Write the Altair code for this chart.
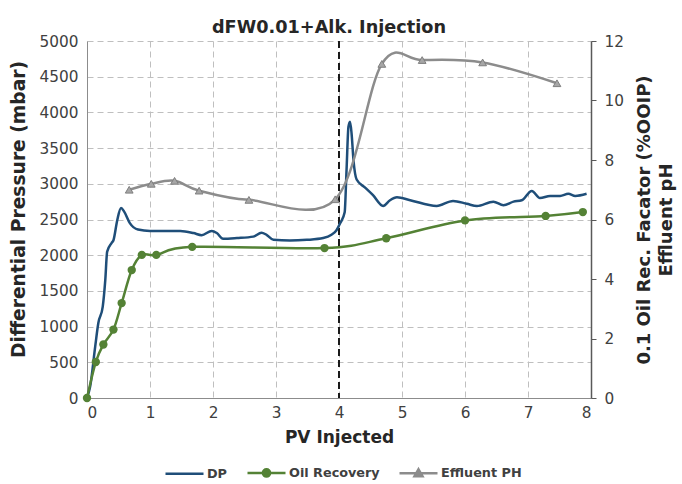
import altair as alt
import pandas as pd

# ---------------- data ----------------
dp_pv = [0, 0.05, 0.13, 0.18, 0.25, 0.29, 0.32, 0.39, 0.42, 0.48, 0.54, 0.59, 0.68, 0.81,
         1.0, 1.27, 1.48, 1.69, 1.82, 1.98, 2.06, 2.16, 2.38, 2.64, 2.77, 2.85, 2.96, 3.22,
         3.49, 3.75, 3.88, 3.96, 4.02, 4.09, 4.12, 4.15, 4.175, 4.2, 4.23, 4.28, 4.41, 4.54,
         4.70, 4.81, 4.92, 5.13, 5.55, 5.81, 6.03, 6.19, 6.45, 6.61, 6.77, 6.90, 7.06, 7.19,
         7.35, 7.51, 7.64, 7.75, 7.93]
dp_mbar = [0, 160, 720, 1050, 1280, 1650, 2050, 2170, 2210, 2490, 2660, 2610, 2450, 2360,
           2340, 2340, 2340, 2310, 2280, 2340, 2310, 2230, 2240, 2260, 2315, 2285, 2215, 2205,
           2215, 2240, 2285, 2350, 2450, 2600, 3200, 3800, 3870, 3700, 3330, 3060, 2950, 2840,
           2690, 2770, 2810, 2770, 2690, 2760, 2720, 2690, 2750, 2700, 2750, 2770, 2900, 2800,
           2830, 2830, 2860, 2830, 2860]

oil_pv = [0, 0.14, 0.26, 0.42, 0.55, 0.71, 0.87, 1.10, 1.67, 3.77, 4.75, 6.00, 7.28, 7.87]
oil_rf = [0, 1.21, 1.80, 2.30, 3.19, 4.30, 4.81, 4.81, 5.08, 5.04, 5.37, 5.97, 6.12, 6.25]

ph_pv = [0.67, 1.02, 1.39, 1.78, 2.57, 3.94, 4.68, 5.32, 6.28, 7.46]
ph_val = [7.0, 7.2, 7.3, 6.97, 6.66, 6.68, 11.23, 11.36, 11.28, 10.58]

switch_pv = [4]

series_names = ["DP", "Oil Recovery", "Effluent PH"]
series_colors = ["#1F4E79", "#548235", "#8C8C8C"]
x_ticks = [0, 1, 2, 3, 4, 5, 6, 7, 8]
left_ticks = [0, 500, 1000, 1500, 2000, 2500, 3000, 3500, 4000, 4500, 5000]
right_ticks = [0, 2, 4, 6, 8, 10, 12]

# ---------------- frames ----------------
dp_df = pd.DataFrame({"pv": dp_pv, "val": dp_mbar})
oil_df = pd.DataFrame({"pv": oil_pv, "val": oil_rf})
ph_df = pd.DataFrame({"pv": ph_pv, "val": ph_val})
rule_df = pd.DataFrame({"pv": switch_pv})
legend_df = pd.DataFrame({"series": series_names})

FONT = "DejaVu Sans"
TXT = "#404040"
TITLE_C = "#262626"
GRID = "#bfbfbf"
LBL = 15.3
TTL = 18.7

x_axis = alt.Axis(
    title="PV Injected", values=x_ticks, format="d", grid=True, gridDash=[6, 4],
    gridColor=GRID, gridWidth=1, ticks=False, labelPadding=7, labelFontSize=LBL,
    labelColor=TXT, labelFont=FONT, titleFont=FONT, titleFontSize=17,
    titleFontWeight="bold", titleColor=TITLE_C, titlePadding=9,
    domainColor="#8c8c8c", domainWidth=1,
)
x_scale = alt.Scale(domain=[0, 8], nice=False)


def xe():
    return alt.X("pv:Q", scale=x_scale, axis=x_axis)


left_scale = alt.Scale(domain=[0, 5000], nice=False)
right_scale = alt.Scale(domain=[0, 12], nice=False)

left_axis = alt.Axis(
    title="Differential Pressure (mbar)", values=left_ticks, format="d", grid=True,
    gridDash=[6, 4], gridColor=GRID, gridWidth=1, ticks=False, labelPadding=9,
    labelFontSize=LBL, labelColor=TXT, labelFont=FONT, titleFont=FONT,
    titleFontSize=TTL, titleFontWeight="bold", titleColor=TITLE_C,
    titlePadding=11, domainColor="#8c8c8c", domainWidth=1, titleY=168,
)

right_axis = alt.Axis(
    title=["0.1 Oil Rec. Facator (%OOIP)", "Effluent pH"], orient="right",
    values=right_ticks, format="d", grid=False, ticks=True, tickSize=5,
    tickColor="#595959", labelPadding=8, labelFontSize=LBL, labelColor=TXT,
    labelFont=FONT, titleFont=FONT, titleFontSize=18, titleFontWeight="bold",
    titleColor=TITLE_C, titlePadding=8, titleAngle=270, titleLineHeight=22,
    domainColor="#595959", domainWidth=1.5,
)


def ye_left():
    return alt.Y("val:Q", scale=left_scale, axis=left_axis)


def ye_right():
    return alt.Y("val:Q", scale=right_scale, axis=right_axis)


dp_line = alt.Chart(dp_df).mark_line(
    color=series_colors[0], strokeWidth=2.5, interpolate="monotone"
).encode(x=xe(), y=ye_left())

rule = alt.Chart(rule_df).mark_rule(
    color="#1a1a1a", strokeWidth=2, strokeDash=[7, 4]
).encode(x=xe())

oil_line = alt.Chart(oil_df).mark_line(
    color=series_colors[1], strokeWidth=2.5, interpolate="cardinal"
).encode(x=xe(), y=ye_right())
oil_pts = alt.Chart(oil_df).mark_point(
    filled=True, shape="circle", size=70, color=series_colors[1], opacity=1
).encode(x=xe(), y=ye_right())

ph_line = alt.Chart(ph_df).mark_line(
    color=series_colors[2], strokeWidth=2.5, interpolate="cardinal"
).encode(x=xe(), y=ye_right())
ph_pts = alt.Chart(ph_df).mark_point(
    filled=True, shape="triangle-up", size=60, fill="#a6a6a6", stroke="#7f7f7f",
    strokeWidth=1, opacity=1
).encode(x=xe(), y=ye_right())

right_layer = alt.layer(oil_line, oil_pts, ph_line, ph_pts)

# legend (built from the series names only)
legend_paths = [
    "M-0.95,0H0.95",
    "M-0.95,0H0.95M0.18,0A0.18,0.18,0,1,1,-0.18,0A0.18,0.18,0,1,1,0.18,0Z",
    "M-0.95,0H0.95M0,-0.2L0.2,0.15L-0.2,0.15Z",
]
leg = alt.Legend(
    title=None, orient="none", direction="horizontal", columns=3,
    legendX=76, legendY=410, symbolSize=1600, symbolStrokeWidth=2.5,
    labelFont=FONT, labelFontSize=12.8, labelFontWeight="bold", labelColor=TXT,
    labelOffset=1, columnPadding=14,
)
legend_layer = alt.Chart(legend_df).transform_filter("false").mark_point(
    filled=True, opacity=1
).encode(
    fill=alt.Fill("series:N", scale=alt.Scale(domain=series_names, range=series_colors), legend=leg),
    stroke=alt.Stroke("series:N", scale=alt.Scale(domain=series_names, range=series_colors), legend=leg),
    shape=alt.Shape("series:N", scale=alt.Scale(domain=series_names, range=legend_paths), legend=leg),
)

chart = alt.layer(
    alt.layer(rule, dp_line), right_layer, legend_layer
).resolve_scale(y="independent").properties(
    width=504, height=357,
    autosize=alt.AutoSizeParams(type="none"),
    padding={"left": 87, "top": 41, "right": 91, "bottom": 86},
    title=alt.TitleParams(
        "dFW0.01+Alk. Injection", font=FONT, fontSize=17.7, fontWeight="bold",
        color=TITLE_C, anchor="middle", offset=6, dx=-10, dy=9,
    ),
).configure_view(strokeWidth=0)

chart.save("out.html", embed_options={"renderer": "svg", "actions": False})
